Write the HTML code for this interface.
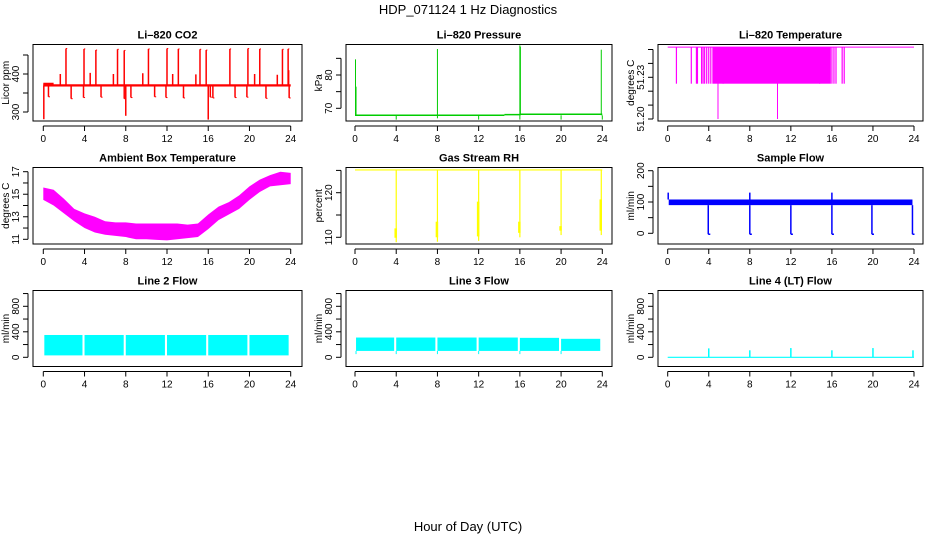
<!DOCTYPE html>
<html><head><meta charset="utf-8">
<style>
html,body{margin:0;padding:0;background:#fff;}
svg{display:block;font-family:"Liberation Sans",Arial,sans-serif;}
</style></head>
<body>
<svg id="chart" width="936" height="540" viewBox="0 0 936 540">
<text x="468" y="14" text-anchor="middle" font-size="13">HDP_071124  1 Hz Diagnostics</text>
<text x="468" y="531" text-anchor="middle" font-size="13">Hour of Day (UTC)</text>
</svg>
<script>
// ---- data ----
const xTicks = [0,4,8,12,16,20,24];
// CO2
const co2Base = 370;
const co2SpikeHours = [2.2,3.95,5.1,7.2,7.85,10.2,12.0,13.1,15.2,15.8,18.1,19.85,21.0,23.2,23.75];
const co2SpikeVals  = [467,466,463,465,462,466,467,466,465,463,466,467,466,465,466];
const co2SmallHours = [1.65,4.55,6.8,9.65,12.55,14.8,20.5,22.7,23.8];
const co2SmallVals  = [400,403,400,402,400,399,400,398,410];
const co2DipHours = [0.5,2.7,3.9,5.6,7.85,8.5,10.8,11.9,13.6,16.2,16.45,18.6,19.75,21.6,23.85];
const co2DipVals  = [340,335,338,339,335,338,340,338,337,339,337,338,339,336,337];
const co2DeepHours = [0.05,8.0,16.0];
const co2DeepVals  = [281,290,280];
// Pressure
const presStepHours = [0,14.5,16,24];
const presStepVals  = [67.9,68.1,68.2];
const presSpikeHours = [0.05,0.1,8.0,16.0,16.05,23.9];
const presSpikeVals  = [84.7,76.5,87.8,88.9,88.5,87.6];
const presDipHours = [4,8,12,16,20,24];
const presDipVals  = [66.6,67.0,66.6,66.6,66.6,66.6];
// Li-820 temperature
const tempBase = 51.2517;
const tempDropHours = [0.85,2.3,2.8,2.9,3.3,3.45,3.6,3.8,4.0,4.2,5.4,14.8,16.0,16.2,16.4,17.0,17.2];
const tempDropVal = 51.2254;
const tempDenseFrom = 4.35, tempDenseTo = 15.9;
const tempDeepHours = [4.9,10.7];
const tempDeepVal = 51.20;
// Ambient box temperature envelope
const ambHours = [0,1,2,3,4,5,6,7,8,9,10,11,12,13,14,15,16,17,18,19,20,21,22,23,24];
const ambUpper = [15.6,15.4,14.6,13.7,13.3,13.0,12.6,12.5,12.5,12.4,12.4,12.4,12.4,12.4,12.3,12.4,13.2,13.9,14.3,14.9,15.7,16.3,16.7,17.0,16.9];
const ambLower = [14.5,14.0,13.3,12.6,12.0,11.6,11.4,11.3,11.2,11.0,11.0,10.95,10.9,11.0,11.1,11.2,11.9,12.7,13.2,13.7,14.5,15.2,15.7,15.8,15.9];
// Gas stream RH
const rhBase = 125.1;
const rhDipHours = [4.0,8.0,12.0,16.0,20.0,23.9];
const rhDipVals  = [108.9,109.0,109.2,110.0,110.5,110.5];
const rhThickTop = [112,113.5,118,113.5,112.5,118.5];
// Sample flow
const sfLow = 90, sfHigh = 108;
const sfDipHours = [3.95,8.0,12.0,16.0,19.9,23.85];
const sfDipVals  = [-3,-3,-3,-3,-3,-3];
const sfSpikeHours = [0.05,8.0,16.0];
const sfSpikeVals  = [130,130,130];
// Line 2 flow
const l2Starts = [0.1,4.0,8.0,12.0,16.0,20.0];
const l2Ends   = [3.8,7.8,11.8,15.8,19.8,23.8];
const l2Low = 30, l2High = 350;
// Line 3 flow
const l3Starts = [0.1,4.0,8.0,12.0,16.0,20.0];
const l3Ends   = [3.8,7.8,11.8,15.8,19.8,23.8];
const l3Highs  = [310,310,310,310,305,290];
const l3Low = 100;
// Line 4 flow
const l4Base = 0;
const l4SpikeHours = [4.0,8.0,12.0,16.0,20.0,23.9];
const l4SpikeVals  = [140,110,145,110,145,110];

// ---- layout ----
const NS='http://www.w3.org/2000/svg';
const svg=document.getElementById('chart');
const cols=[{bl:33,br:302,x0:43.3,x24:290.7},{bl:346,br:612,x0:355,x24:602.3},{bl:658,br:923,x0:667.7,x24:914}];
const rows=[{bt:44.5,bb:121},{bt:167.5,bb:244},{bt:290.5,bb:366.5}];
function el(tag,attrs,parent){const e=document.createElementNS(NS,tag);for(const k in attrs)e.setAttribute(k,attrs[k]);(parent||svg).appendChild(e);return e;}

function panel(ci,ri,name,title,ylab,yv1,yp1,yv2,yp2,yTicks,yLabels){
  const c=cols[ci],r=rows[ri];
  const g=el('g',{});
  
  
  const X=h=>c.x0+(c.x24-c.x0)*h/24;
  const Y=v=>yp1+(yp2-yp1)*(v-yv1)/(yv2-yv1);
  const t=el('text',{x:(c.bl+c.br)/2,y:r.bt-6,'text-anchor':'middle','font-size':11,'font-weight':'bold'},g);
  t.textContent=title;
  
  
  const box=el('rect',{x:c.bl,y:r.bt,width:c.br-c.bl,height:r.bb-r.bt,fill:'none',stroke:'#000','stroke-width':1},g);
  
  
  const ax=el('g',{},g);
  
  
  el('line',{x1:X(0),x2:X(24),y1:r.bb+5,y2:r.bb+5,stroke:'#000'},ax);
  xTicks.forEach(h=>{
    el('line',{x1:X(h),x2:X(h),y1:r.bb+5,y2:r.bb+10,stroke:'#000'},ax);
    const tx=el('text',{x:X(h),y:r.bb+21,'text-anchor':'middle','font-size':10},ax);
    tx.textContent=h;
    
    
  });
  const ay=el('g',{},g);
  
  
  const ax0=c.bl-5;
  el('line',{x1:ax0,x2:ax0,y1:Y(yTicks[0]),y2:Y(yTicks[yTicks.length-1]),stroke:'#000'},ay);
  yTicks.forEach(v=>{el('line',{x1:ax0,x2:ax0-5,y1:Y(v),y2:Y(v),stroke:'#000'},ay);});
  yLabels.forEach(v=>{
    const tx=el('text',{x:0,y:0,'text-anchor':'middle','font-size':10,transform:`translate(${ax0-9},${Y(v)}) rotate(-90)`},ay);
    tx.textContent=v;
    
    
  });
  const yl=el('text',{x:0,y:0,'text-anchor':'middle','font-size':10,transform:`translate(${c.bl-24},${(r.bt+r.bb)/2}) rotate(-90)`},g);
  yl.textContent=ylab;
  
  
  const d=el('g',{},g);
  
  
  return {X,Y,d};
}
function vline(p,h,v1,v2,col,w){el('line',{x1:p.X(h),x2:p.X(h),y1:p.Y(v1),y2:p.Y(v2),stroke:col,'stroke-width':w||1},p.d);}
function hline(p,h1,h2,v,col,w){el('line',{x1:p.X(h1),x2:p.X(h2),y1:p.Y(v),y2:p.Y(v),stroke:col,'stroke-width':w||1},p.d);}
function rectv(p,h1,h2,lo,hi,col){el('rect',{x:p.X(h1),y:p.Y(hi),width:p.X(h2)-p.X(h1),height:p.Y(lo)-p.Y(hi),fill:col},p.d);}

// CO2
let p=panel(0,0,'panel-co2','Li\u2013820 CO2','Licor ppm',300,112,400,74,[300,350,400,450],[300,400]);
rectv(p,0,24,co2Base-3,co2Base+3,'#f00');
rectv(p,0,1.0,co2Base+1,co2Base+7,'#f00');
co2SpikeHours.forEach((h,i)=>{vline(p,h,co2Base,co2SpikeVals[i],'#f00',1.5);hline(p,h,h+0.12,co2SpikeVals[i],'#f00');});
co2SmallHours.forEach((h,i)=>{vline(p,h,co2Base,co2SmallVals[i],'#f00',1.5);});
co2DipHours.forEach((h,i)=>{vline(p,h,co2Base,co2DipVals[i],'#f00',1.5);hline(p,h,h+0.15,co2DipVals[i],'#f00');});
co2DeepHours.forEach((h,i)=>{vline(p,h,co2Base,co2DeepVals[i],'#f00',1.5);});

// Pressure
p=panel(1,0,'panel-pressure','Li\u2013820 Pressure','kPa',70,108.3,80,75,[70,75,80,85],[70,80]);
for(let i=0;i<presStepVals.length;i++){hline(p,presStepHours[i],presStepHours[i+1],presStepVals[i],'#0c0',1.5);}
presSpikeHours.forEach((h,i)=>{vline(p,h,67.9,presSpikeVals[i],'#0c0',1);});
presDipHours.forEach((h,i)=>{vline(p,h,67.9,presDipVals[i],'#0c0',1);});

// Li-820 Temperature
p=panel(2,0,'panel-li820-temp','Li\u2013820 Temperature','degrees C',51.20,119,51.23,77.3,[51.20,51.21,51.22,51.23,51.24,51.25],['51.20','51.23']);
hline(p,0,24,tempBase,'#f0f',1);
rectv(p,tempDenseFrom,tempDenseTo,tempDropVal,tempBase,'#f0f');
tempDropHours.forEach(h=>{vline(p,h,tempBase,tempDropVal,'#f0f',1.2);});
tempDeepHours.forEach(h=>{vline(p,h,tempBase,tempDeepVal,'#f0f',1);});

// Ambient
p=panel(0,1,'panel-ambient-temp','Ambient Box Temperature','degrees C',11,239.3,17,171.7,[11,12,13,14,15,16,17],[11,13,15,17]);
{let pts=ambHours.map((h,i)=>p.X(h)+','+p.Y(ambUpper[i]));
 pts=pts.concat(ambHours.slice().reverse().map((h,j)=>p.X(h)+','+p.Y(ambLower[ambHours.length-1-j])));
 el('polygon',{points:pts.join(' '),fill:'#f0f'},p.d);}

// RH
p=panel(1,1,'panel-gas-rh','Gas Stream RH','percent',110,237.3,120,192.7,[110,115,120,125],[110,120]);
hline(p,0,24,rhBase,'#ff0',1.2);
rhDipHours.forEach((h,i)=>{vline(p,h,rhBase,rhDipVals[i],'#ff0',1.2);vline(p,h-0.05,rhThickTop[i],rhDipVals[i]+1,'#ff0',2.5);});

// Sample Flow
p=panel(2,1,'panel-sample-flow','Sample Flow','ml/min',0,233.3,200,170.7,[0,50,100,150,200],[0,100,200]);
rectv(p,0.1,23.85,sfLow,sfHigh,'#00f');
sfDipHours.forEach((h,i)=>{vline(p,h,sfLow,sfDipVals[i],'#00f',1.5);hline(p,h,h+0.2,sfDipVals[i],'#00f',1.5);});
sfSpikeHours.forEach((h,i)=>{vline(p,h,sfHigh,sfSpikeVals[i],'#00f',1.5);});

// Line 2
p=panel(0,2,'panel-line2-flow','Line 2 Flow','ml/min',0,357.3,800,306.3,[0,200,400,600,800,1000],[0,400,800]);
l2Starts.forEach((s,i)=>{rectv(p,s,l2Ends[i],l2Low,l2High,'#0ff');});

// Line 3
p=panel(1,2,'panel-line3-flow','Line 3 Flow','ml/min',0,357.3,800,306.3,[0,200,400,600,800,1000],[0,400,800]);
l3Starts.forEach((s,i)=>{rectv(p,s,l3Ends[i],l3Low,l3Highs[i],'#0ff');vline(p,s,l3Low,50,'#0ff',1);});

// Line 4
p=panel(2,2,'panel-line4-flow','Line 4 (LT) Flow','ml/min',0,357.3,800,306.3,[0,200,400,600,800,1000],[0,400,800]);
hline(p,0,24,l4Base,'#0ff',1.2);
l4SpikeHours.forEach((h,i)=>{vline(p,h,l4Base,l4SpikeVals[i],'#0ff',1.5);});
</script>
</body></html>
